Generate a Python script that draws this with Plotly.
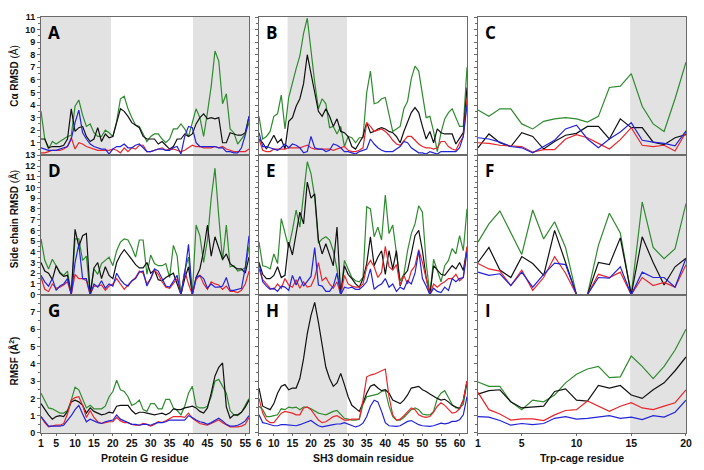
import plotly.graph_objects as go

# ---------------- data ----------------
res_G = list(range(1, 57))
res_SH3 = list(range(6, 63))
res_trp = list(range(1, 21))

ticks_G = [1, 5, 10, 15, 20, 25, 30, 35, 40, 45, 50, 55]
ticks_SH3 = [6, 10, 15, 20, 25, 30, 35, 40, 45, 50, 55, 60]
ticks_trp = [1, 5, 10, 15, 20]

panel_letters = ["A", "B", "C", "D", "E", "F", "G", "H", "I"]
x_titles = ["Protein G residue", "SH3 domain residue", "Trp-cage residue"]
y_titles = ["<b>Cα RMSD</b> (Å)", "<b>Side chain RMSD</b> (Å)", "<b>RMSF (Å<sup>2</sup>)</b>"]

# Row 1: C-alpha RMSD
A_black = [1.3,1.3,0.6,0.7,0.7,0.7,0.8,1.3,3.7,1.9, 2.2,2.3,1.5,1.1,1.3,2.2,1.1,1.7,1.4,1.5,
           2.6,3.7,3.5,3.1,2.6,2.4,2.2,1.5,1.3,1.3, 1.3,0.9,1.1,0.8,0.5,0.7,1.3,1.3,1.7,1.5,
           1.7,2.5,3.0,3.3,2.9,3.0,2.9,3.0,1.0,1.0, 1.8,1.7,1.6,1.6,1.8,3.1]
A_green = [3.5,1.3,0.5,1.1,0.9,1.1,1.3,1.5,1.6,3.9, 4.4,3.2,2.3,2.5,1.8,1.5,1.5,2.0,1.8,1.5,
           2.7,4.5,4.7,3.7,3.0,2.4,2.3,1.7,1.1,1.5, 1.7,1.7,1.3,1.0,1.3,2.1,2.1,2.5,2.1,1.5,
           2.7,3.7,3.0,1.5,3.4,5.5,8.3,7.5,4.1,4.9, 2.1,1.8,0.9,1.3,1.7,2.6]
A_red = [0.2,0.2,0.3,0.4,0.4,0.4,0.5,0.7,1.4,0.5, 1.0,0.9,0.7,0.6,0.5,0.4,0.4,0.4,0.4,0.5,
         0.4,0.2,0.6,0.3,0.6,0.5,0.8,0.8,0.3,0.3, 0.4,0.5,0.6,0.4,0.5,0.5,0.4,0.3,0.4,0.6,
         0.8,0.7,0.7,0.6,0.6,0.6,0.7,0.6,0.7,0.5, 0.4,0.3,0.3,0.3,0.3,0.5]
A_blue = [0.6,0.5,0.4,0.4,0.4,0.5,0.6,0.7,1.3,2.6, 3.6,1.8,1.3,0.9,0.7,0.6,0.5,0.5,0.1,0.5,
          0.7,0.7,0.9,0.6,0.6,0.8,0.9,0.6,0.3,0.3, 0.4,0.5,0.5,0.4,0.4,0.6,0.7,0.1,1.5,2.3,
          2.2,1.0,0.7,0.7,0.7,0.7,0.7,0.6,0.6,0.3, 0.3,0.2,0.2,0.6,1.6,3.1]

B_black = [1.3,1.0,0.5,1.0,1.6,1.0,1.3,0.5,2.7,3.0, 3.9,4.5,5.7,8.0,6.5,5.0,3.5,3.1,3.7,3.1,
           2.3,2.9,1.9,1.8,1.5,0.7,0.5,1.0,1.5,2.6, 1.8,1.9,2.1,2.2,2.1,1.9,1.8,1.5,1.0,1.9,
           2.6,3.4,3.8,3.4,2.3,1.3,1.9,1.0,2.1,1.8, 1.7,1.7,1.7,0.9,1.3,1.8,5.4]
B_green = [3.1,1.3,1.5,1.9,3.1,3.3,4.8,2.1,4.6,5.8, 6.9,7.9,9.7,10.9,8.2,5.8,3.7,4.5,4.1,2.2,
           2.3,1.7,2.3,0.7,1.5,1.4,1.0,1.4,1.4,5.0, 6.7,4.1,4.2,4.5,4.6,3.1,1.9,2.1,2.3,3.7,
           4.3,6.1,7.1,6.7,5.0,3.0,3.1,1.9,0.3,1.8, 2.9,3.4,3.7,3.0,2.3,2.3,7.0]
B_red = [1.3,0.4,0.3,0.3,0.5,0.5,0.5,0.5,0.6,0.6, 0.6,0.6,0.7,0.8,0.6,0.5,0.5,0.5,0.5,0.5,
         0.4,0.5,0.6,0.7,0.4,0.3,0.3,0.4,0.6,2.6, 2.3,1.9,2.0,2.1,1.9,1.6,1.2,0.9,0.8,1.2,
         1.5,1.5,1.2,0.9,0.7,0.6,0.6,0.5,0.6,1.1, 1.1,0.7,0.5,0.4,1.0,1.5,4.5]
B_blue = [1.8,0.7,0.7,0.6,0.5,0.4,0.6,0.9,0.6,0.9, 0.8,0.6,0.2,0.3,1.5,0.6,0.5,0.5,0.3,0.4,
          0.9,0.8,0.6,0.3,0.3,0.2,0.1,0.3,0.4,0.5, 1.3,0.9,0.6,0.4,0.3,0.3,0.3,0.5,0.7,1.1,
          1.0,0.6,0.4,0.2,0.2,0.1,0.3,0.2,0.1,0.3, 0.3,0.3,0.3,0.3,0.6,1.5,4.0]

C_black = [0.6,1.7,1.0,0.7,1.8,1.5,0.5,1.1,1.6,1.75,2.3,2.3,1.3,2.9,2.2,2.2,1.05,0.85,1.4,1.65]
C_green = [3.6,3.1,3.7,3.7,2.5,2.1,2.7,2.9,3.0,2.9,2.65,3.1,5.4,5.5,6.5,3.9,2.5,1.9,4.5,7.4]
C_red = [1.0,0.95,0.8,0.75,0.7,0.25,0.45,0.45,1.3,1.65,1.4,0.95,0.5,1.25,2.2,0.8,0.7,0.8,0.35,1.85]
C_blue = [1.4,1.3,1.05,0.7,0.6,0.2,0.7,1.2,2.1,2.4,1.3,0.6,1.3,1.85,2.6,1.2,1.05,0.95,0.75,1.95]

# Row 2: side chain RMSD
D_black = [3.0,2.2,2.0,1.4,2.7,2.0,1.7,1.8,0.0,6.1, 4.5,5.5,5.7,0.0,2.5,3.0,1.5,2.6,1.8,1.5,
           3.0,3.7,4.2,3.8,3.3,2.8,2.5,2.5,3.0,2.0, 2.3,1.4,1.3,1.6,1.8,2.0,1.0,0.0,1.5,2.6,
           0.0,1.6,2.4,4.1,6.5,3.6,5.4,4.4,3.3,3.8, 2.9,2.6,2.4,2.4,2.0,3.5]
D_green = [5.2,3.2,2.4,3.3,2.7,2.1,1.8,2.2,0.0,5.2, 5.2,3.2,3.6,0.0,2.4,1.9,2.9,3.2,3.5,2.7,
           4.1,4.9,5.2,5.1,4.4,3.5,5.1,5.1,1.9,3.7, 2.9,2.7,2.7,2.9,1.6,4.6,3.6,0.0,2.2,3.5,
           0.0,6.5,5.5,3.0,5.1,9.0,11.8,7.3,3.2,6.5, 2.6,2.7,2.2,2.3,2.5,4.5]
D_red = [1.6,0.5,0.3,1.0,0.6,0.7,0.9,1.2,0.0,1.9, 1.5,1.5,1.3,0.0,0.8,0.8,0.9,0.4,0.8,1.0,
         1.5,1.0,0.5,0.9,1.3,1.6,2.2,2.0,1.0,1.5, 2.3,1.9,1.2,0.7,0.6,1.1,1.5,0.0,2.2,1.0,
         0.0,1.4,1.8,1.0,0.5,1.2,1.0,0.9,0.5,0.8, 0.3,0.3,0.2,0.4,1.0,2.2]
D_blue = [1.8,1.2,0.8,1.5,0.4,0.8,1.0,1.5,0.0,3.0, 4.7,1.5,1.5,0.0,1.0,0.7,1.3,0.6,1.0,0.8,
          2.0,1.4,1.0,0.8,1.3,1.5,2.1,2.2,0.8,1.5, 2.4,2.2,1.5,0.8,0.7,1.3,1.8,0.0,2.0,4.7,
          0.0,1.6,1.8,1.5,0.6,1.0,0.7,0.7,0.8,1.6, 0.4,0.4,0.5,0.6,2.5,5.5]

E_black = [3.0,1.9,1.5,1.5,1.8,2.6,1.6,1.8,4.9,3.7, 5.7,7.7,6.6,10.5,9.0,9.4,5.1,3.8,4.75,3.8,
           2.7,6.3,0.0,2.7,1.9,1.5,1.0,0.7,1.5,2.9, 5.4,2.7,3.5,4.1,1.9,4.1,2.4,4.1,0.8,1.8,
           2.25,3.8,5.5,6.0,4.1,1.6,0.0,2.7,2.25,1.9, 1.8,2.25,2.7,2.4,3.0,2.25,4.4]
E_green = [4.9,2.7,2.6,2.4,3.8,2.9,7.1,5.7,4.4,6.0, 7.9,6.3,9.4,12.4,11.3,9.1,4.8,5.2,5.4,5.1,
           4.1,2.4,0.0,3.2,2.4,1.6,1.3,1.2,1.6,8.2, 8.0,5.4,6.3,5.1,9.3,5.7,6.5,4.1,1.3,1.9,
           4.1,5.7,6.6,8.3,7.7,3.0,0.0,3.3,2.3,1.2, 2.7,3.2,4.3,3.8,5.5,4.1,8.0]
E_red = [2.4,1.4,1.0,0.6,0.5,1.0,0.6,1.5,0.9,0.7, 1.4,0.6,1.2,0.7,0.8,1.6,3.0,1.3,1.6,1.0,
         0.6,1.2,0.0,1.8,1.0,0.8,0.7,0.7,1.0,2.6, 3.2,2.6,1.6,2.1,4.5,2.6,2.3,2.8,0.9,1.8,
         1.0,2.2,2.7,4.2,3.0,1.5,0.0,1.0,0.7,1.0, 1.2,1.5,1.5,1.9,1.3,1.6,4.5]
E_blue = [3.0,1.2,0.8,0.5,0.6,0.3,0.8,0.7,0.4,1.8, 0.9,1.7,0.8,1.3,1.7,4.4,0.9,0.8,0.3,0.3,
          0.8,2.0,0.0,0.7,0.6,0.7,0.5,0.5,0.8,1.2, 2.4,0.5,0.8,1.0,1.5,0.7,1.0,0.3,0.7,0.5,
          1.3,1.0,2.0,4.1,1.5,0.8,0.0,0.6,0.3,0.2, 0.7,0.4,1.5,1.2,1.5,1.6,4.0]

F_black = [3.0,4.4,2.3,1.6,3.55,2.9,1.8,6.0,3.0,0,0,3.0,2.8,5.3,0,5.4,3.0,0.9,2.6,3.4]
F_green = [4.9,6.6,7.8,5.75,3.75,7.9,5.2,6.8,4.4,0,0,4.6,7.6,5.75,0,8.65,4.4,3.35,4.3,8.5]
F_red = [2.9,2.4,2.2,0.85,2.3,0.4,1.6,3.55,2.0,0,0,1.9,1.6,2.1,0,1.6,0.85,1.15,0.7,2.8]
F_blue = [2.1,1.8,1.95,0.85,2.1,0.7,1.9,2.95,2.8,0,0,1.6,1.55,2.6,0,2.1,1.6,1.6,0.7,3.4]

# Row 3: RMSF
G_black = [1.7,1.35,1.05,0.8,0.95,1.0,0.95,1.25,1.8,1.9, 1.8,1.6,1.15,1.45,1.25,1.15,1.05,1.1,1.2,1.15,
           1.55,1.6,1.6,1.6,1.3,1.1,1.2,1.2,1.15,1.1, 1.05,1.1,1.15,1.05,1.15,1.4,1.35,1.35,1.45,1.5,
           1.55,1.45,1.25,1.15,1.45,2.3,3.3,3.8,4.05,1.5, 0.85,1.05,1.05,1.2,1.5,1.9]
G_green = [2.3,1.9,1.45,1.4,1.25,1.15,1.15,1.3,1.9,2.65, 2.5,2.0,1.45,1.6,1.4,1.4,1.4,1.55,2.1,2.4,
           3.05,2.5,2.4,2.1,1.6,1.7,1.9,1.35,1.25,1.7, 1.7,1.4,1.4,1.95,1.95,1.45,1.3,1.05,1.55,2.3,
           2.7,1.55,1.45,1.45,1.55,2.1,3.0,3.1,2.7,2.3, 1.3,1.05,1.0,1.2,1.6,2.0]
G_red = [0.95,0.6,0.35,0.4,0.45,0.45,0.55,1.1,1.9,2.05, 2.1,1.6,0.9,1.3,0.9,0.65,0.55,0.6,0.65,0.65,
         0.9,0.7,0.6,0.6,0.5,0.45,0.45,0.55,0.5,0.4, 0.5,0.65,0.6,0.7,0.85,0.95,0.95,0.95,0.9,1.15,
         0.85,0.7,0.55,0.5,0.45,0.55,0.65,0.75,0.6,0.45, 0.35,0.35,0.35,0.4,0.5,0.9]
G_blue = [0.95,0.65,0.4,0.4,0.4,0.4,0.45,0.7,1.0,1.35, 1.6,1.1,0.65,0.8,0.7,0.6,0.55,0.65,0.7,0.75,
          1.05,0.8,0.7,0.6,0.5,0.5,0.45,0.5,0.5,0.45, 0.55,0.6,0.6,0.65,0.75,0.75,0.75,0.75,0.75,1.0,
          0.9,0.75,0.65,0.6,0.5,0.6,0.75,0.85,0.7,0.5, 0.4,0.4,0.45,0.55,0.7,1.0]

H_black = [2.6,1.55,1.45,1.35,1.7,2.3,2.7,2.8,2.5,2.6, 2.6,3.15,4.3,5.75,6.8,7.55,6.4,5.1,3.8,3.15,
           2.7,2.9,3.45,2.8,2.1,1.6,1.45,1.25,1.75,2.3, 2.7,2.8,2.6,2.45,2.5,2.3,1.9,1.8,1.7,1.9,
           2.2,2.6,2.65,2.7,2.5,2.4,2.25,2.1,2.0,1.9, 1.95,1.8,1.6,1.5,1.4,1.9,3.0]
H_green = [1.55,1.35,0.95,0.95,1.0,1.05,1.4,1.35,1.5,1.45, 1.5,1.35,1.5,1.5,1.4,1.25,1.15,1.1,1.05,1.15,
           1.25,1.3,1.1,0.85,0.8,0.75,0.75,0.8,1.65,2.1, 2.15,2.2,2.25,2.4,2.45,1.55,0.95,0.75,0.75,0.9,
           1.15,1.35,1.45,1.35,1.1,1.05,1.05,1.25,2.0,2.3, 2.45,2.0,1.65,1.45,1.45,1.65,2.9]
H_red = [2.0,1.15,0.75,0.6,0.6,0.85,1.15,1.25,1.2,1.15, 1.05,1.05,1.45,1.5,1.35,1.05,0.75,0.6,0.65,0.8,
         0.95,1.0,0.85,0.75,0.75,0.8,0.8,0.8,1.9,3.25, 3.35,3.4,3.5,3.6,3.7,2.1,1.05,0.75,0.8,1.0,
         1.25,1.45,1.35,1.05,0.95,0.9,0.95,1.2,1.55,1.75, 1.6,1.35,1.15,1.2,1.4,1.9,3.0]
H_blue = [1.05,0.6,0.55,0.5,0.42,0.42,0.48,0.48,0.46,0.42, 0.42,0.48,0.57,0.67,0.72,0.57,0.42,0.35,0.38,0.42,
          0.48,0.52,0.53,0.6,0.53,0.42,0.35,0.42,0.57,0.95, 1.55,1.9,1.8,1.25,0.6,0.42,0.38,0.38,0.42,0.53,
          0.67,0.72,0.6,0.48,0.42,0.38,0.38,0.42,0.48,0.57, 0.53,0.57,0.67,0.67,0.77,1.05,2.1]

I_black = [2.25,2.45,2.5,1.8,1.45,1.5,1.55,2.4,2.55,1.9,1.85,2.75,2.6,2.75,2.2,2.0,2.5,2.9,3.6,4.4]
I_green = [2.95,2.7,2.7,1.8,1.35,1.9,1.8,2.2,2.9,3.4,3.7,3.85,3.2,3.25,4.45,3.85,3.15,3.85,4.8,6.0]
I_red = [2.35,1.35,1.1,0.75,0.82,0.82,0.72,1.05,1.3,1.35,1.85,1.55,1.25,1.55,1.75,1.45,1.35,1.55,1.75,2.5]
I_blue = [0.95,0.92,0.72,0.45,0.55,0.48,0.55,0.85,0.95,0.8,0.85,0.92,1.0,0.85,0.92,0.77,1.0,0.92,1.2,1.9]

# shaded (secondary-structure) regions per column
shade_G = [(1, 19.5), (41.2, 56)]
shade_SH3 = [(13.7, 29.7)]
shade_trp = [(14.9, 20)]

# y tick labels per row
yticks_row = [list(range(1, 12)), list(range(0, 14)), list(range(0, 8))]

# ---------------- figure ----------------
COLORS = {"green": "#2e8b2e", "black": "#111111", "red": "#e8262b", "blue": "#2323d8"}

col_x = [res_G, res_SH3, res_trp]
col_ticks = [ticks_G, ticks_SH3, ticks_trp]
col_range = [[1, 56], [6, 62], [1, 20]]
col_shade = [shade_G, shade_SH3, shade_trp]
row_range = [[0, 11], [0, 13], [0, 8]]

W, H = 704, 470
ml, mr, mt, mb = 41, 15, 15, 37
pw, ph = W - ml - mr, H - mt - mb
col_px = [(41, 250), (260, 469), (480, 689)]
row_px = [(15, 154), (154, 294), (294, 433)]
col_dom = [[(a - ml) / pw, (b - ml) / pw] for a, b in col_px]
row_dom = [[(H - mb - b) / ph, (H - mb - a) / ph] for a, b in row_px]

panels = [
    [(A_green, A_black, A_red, A_blue), (B_green, B_black, B_red, B_blue), (C_green, C_black, C_red, C_blue)],
    [(D_green, D_black, D_red, D_blue), (E_green, E_black, E_red, E_blue), (F_green, F_black, F_red, F_blue)],
    [(G_green, G_black, G_red, G_blue), (H_green, H_black, H_red, H_blue), (I_green, I_black, I_red, I_blue)],
]

fig = go.Figure()
layout = {}
shapes = []
annotations = []
AXC = "#6a6a6a"
tickfont_x = dict(family="Liberation Sans, Arial, sans-serif", size=10.5, color="#111", weight="bold")
tickfont_y = dict(family="Liberation Sans, Arial, sans-serif", size=9, color="#111", weight="bold")

for r in range(3):
    for c in range(3):
        p = r * 3 + c + 1
        sfx = "" if p == 1 else str(p)
        xs = col_x[c]
        for series, name in zip(panels[r][c], ["green", "black", "red", "blue"]):
            fig.add_trace(go.Scatter(x=xs, y=series, mode="lines",
                                     line=dict(color=COLORS[name], width=1.2),
                                     xaxis="x" + sfx, yaxis="y" + sfx, showlegend=False,
                                     hoverinfo="skip"))
        bottom = (r == 2)
        layout["xaxis" + sfx] = dict(
            domain=col_dom[c], anchor="y" + sfx, range=col_range[c],
            showline=True, mirror=True, linecolor=AXC, linewidth=1,
            showgrid=False, zeroline=False,
            tickmode="array", tickvals=col_ticks[c],
            ticks="outside" if bottom else "", ticklen=2, tickcolor=AXC,
            showticklabels=bottom, tickfont=tickfont_x, ticklabelstandoff=-2,
        )
        ymax = row_range[r][1]
        layout["yaxis" + sfx] = dict(
            domain=row_dom[r], anchor="x" + sfx, range=row_range[r],
            showline=True, mirror=True, linecolor=AXC, linewidth=1,
            showgrid=False, zeroline=False,
            tickmode="array", tickvals=yticks_row[r],
            ticks="outside", ticklen=3, tickcolor=AXC,
            minor=dict(tickmode="array", tickvals=[v + 0.5 for v in range(ymax)],
                       ticks="outside", ticklen=2, tickcolor=AXC),
            showticklabels=(c == 0), tickfont=tickfont_y,
        )
        for (x0, x1) in col_shade[c]:
            shapes.append(dict(type="rect", xref="x" + sfx, yref="y" + sfx + " domain",
                               x0=x0, x1=x1, y0=0, y1=1, fillcolor="#e2e2e2",
                               line=dict(width=0), layer="below"))
        annotations.append(dict(text="<b>%s</b>" % panel_letters[p - 1],
                                xref="x" + sfx + " domain", yref="y" + sfx + " domain",
                                x=0.022, y=0.985, xanchor="left", yanchor="top", showarrow=False,
                                font=dict(family="Open Sans, Arial, sans-serif", size=17, color="#000")))

# y titles
y_title_px = [74, 218, 361]
for r in range(3):
    annotations.append(dict(text=y_titles[r], xref="paper", yref="paper",
                            x=(14 - ml) / pw, y=(H - mb - y_title_px[r]) / ph,
                            xanchor="center", yanchor="middle", textangle=-90, showarrow=False,
                            font=dict(family="Liberation Sans, Arial, sans-serif", size=10, color="#111")))
# x titles
for c in range(3):
    cx = (col_px[c][0] + col_px[c][1]) / 2
    annotations.append(dict(text="<b>%s</b>" % x_titles[c], xref="paper", yref="paper",
                            x=(cx - ml) / pw, y=(H - mb - 458) / ph,
                            xanchor="center", yanchor="middle", showarrow=False,
                            font=dict(family="Liberation Sans, Arial, sans-serif", size=10.5, color="#111")))

fig.update_layout(
    width=W, height=H,
    margin=dict(l=ml, r=mr, t=mt, b=mb, pad=0),
    paper_bgcolor="white", plot_bgcolor="white",
    shapes=shapes, annotations=annotations,
    **layout,
)

fig.write_html("out.html", config={"displayModeBar": False},
               post_script="document.body.style.margin='0';")
